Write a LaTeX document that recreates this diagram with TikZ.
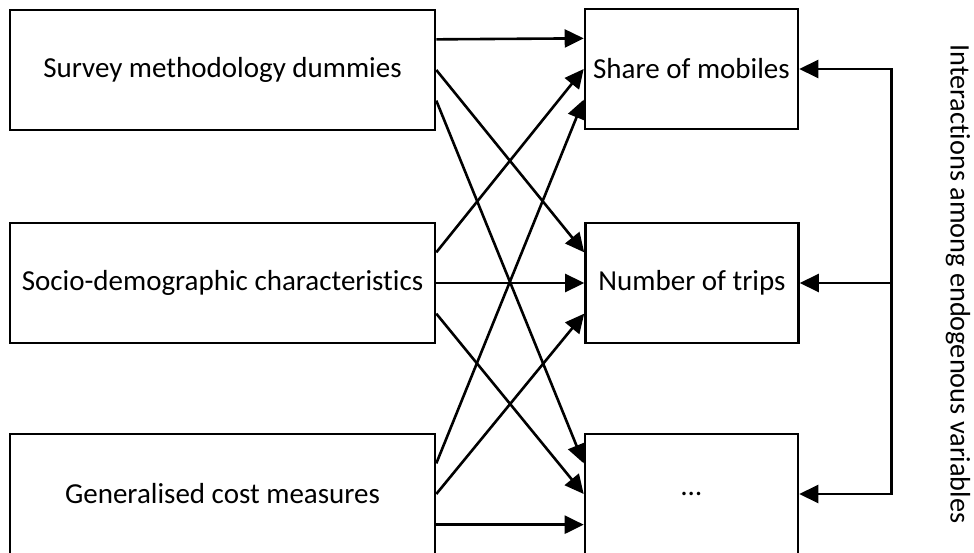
\documentclass[tikz,border=0pt]{standalone}
\usepackage{fontspec}
\setmainfont{Carlito}[Ligatures=NoCommon]
\usetikzlibrary{arrows.meta,calc}
\begin{document}
\begin{tikzpicture}[x=1pt,y=-1pt,
  box/.style={draw,line width=2.6pt,inner sep=0pt,minimum height=120pt,font=\fontsize{29}{35}\selectfont},
  lbox/.style={box,minimum width=425pt},
  rbox/.style={box,minimum width=213pt},
  tip/.tip={Triangle[length=19pt,width=18pt]},
  arr/.style={line width=2.6pt,-tip}]
\useasboundingbox (0,0) rectangle (974,553);
\node[lbox] (L1) at (222.5,70) {Survey methodology dummies};
\node[lbox] (L2) at (222.5,283) {Socio-demographic characteristics};
\node[lbox] (L3) at (222.5,494) {Generalised cost measures};
\node[rbox] (R1) at (691.5,69) {Share of mobiles};
\node[rbox] (R2) at (692,283) {Number of trips};
\node[rbox] (R3) at (691.5,494) {…};
\foreach \i in {1,2,3}{
  \foreach \k in {1,2,3}{
    \draw[arr] ($(L\i.north east)!{\k/4}!(L\i.south east)$) -- ($(R\k.north west)!{\i/4}!(R\k.south west)$);
  }
}
\coordinate (F1) at ($(R1.east)+(92,0)$);
\coordinate (F3) at ($(R3.east)+(92,0)$);
\coordinate (F2) at ($(R2.east)+(91,0)$);
\draw[line width=2.6pt,tip-tip] (R1.east) -- (F1) -- (F3) -- (R3.east);
\draw[arr] (F2) -- (R2.east);
\node[rotate=-90,font=\fontsize{28.3}{34}\selectfont] (T) at (958,284) {Interactions among endogenous variables};
\end{tikzpicture}
\end{document}
